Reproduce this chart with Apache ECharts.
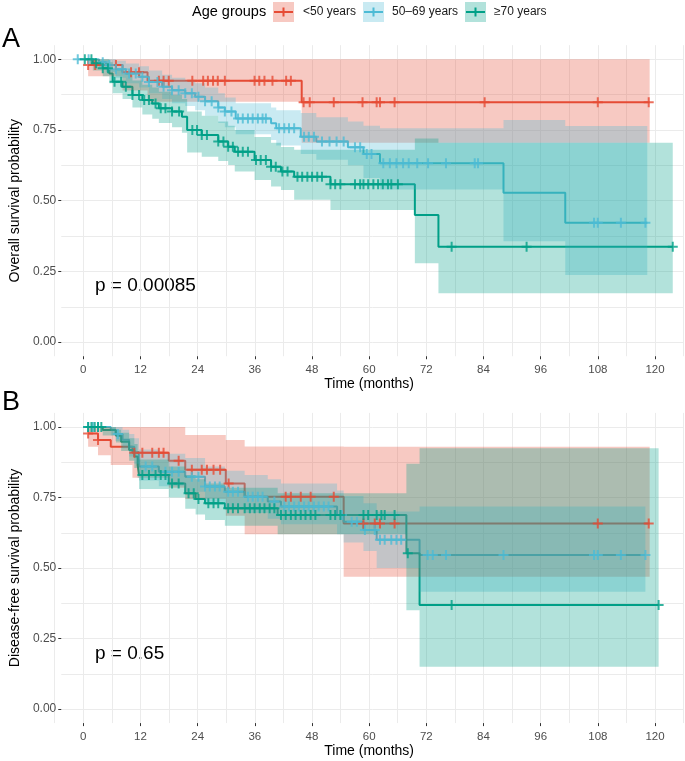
<!DOCTYPE html>
<html><head><meta charset="utf-8">
<script src="https://cdn.jsdelivr.net/npm/echarts@6/dist/echarts.min.js"></script>
<style>html,body{margin:0;padding:0;background:#fff}#c{width:685px;height:761px}</style>
</head><body><div id="c"></div>
<script>
// ---------- tick labels ----------
const xTicks = [0, 12, 24, 36, 48, 60, 72, 84, 96, 108, 120];
const yTicks = [0, 0.25, 0.5, 0.75, 1];
const groupNames = ['<50 years', '50\u201369 years', '\u226570 years'];

// ---------- Panel A: overall survival ----------
const osRedT  = [-0.3, 7.0, 12.3, 45.0, 118.8];
const osRedS  = [0.98, 0.954, 0.924, 0.848, 0.848];
const osRedLo = [0.94, 0.89, 0.85, 0.705, 0.705];
const osRedHi = [1, 1, 1, 1, 1];
const osRedC  = [-0.3, 1.2, 5.6, 8.8, 10.5, 14.7, 15.7, 16.8, 21.8, 24.1, 25.1, 26.2, 27.2, 28.7, 35.0, 36.0, 37.1, 38.8, 41.7, 42.7, 45.4, 46.7, 51.8, 57.9, 60.9, 61.6, 64.7, 83.8, 107.8, 118.6];

const osBlueT  = [-2.5, 2.0, 3.5, 5.6, 7.7, 10.5, 12.6, 15.4, 17.5, 20.3, 22.4, 24.5, 27.3, 28.7, 31.0, 38.5, 39.6, 44.8, 48.1, 54.8, 58.1, 61.6, 87.8, 100.9, 118.3];
const osBlueS  = [1.0, 0.99, 0.98, 0.965, 0.95, 0.938, 0.92, 0.903, 0.891, 0.88, 0.868, 0.852, 0.83, 0.815, 0.791, 0.774, 0.756, 0.726, 0.709, 0.689, 0.665, 0.632, 0.528, 0.422, 0.422];
const osBlueHi = [1.0, 1.0, 1.0, 0.995, 0.985, 0.975, 0.96, 0.945, 0.935, 0.925, 0.915, 0.9, 0.88, 0.865, 0.845, 0.83, 0.82, 0.81, 0.795, 0.78, 0.765, 0.756, 0.785, 0.764, 0.764];
const osBlueLo = [1.0, 0.97, 0.955, 0.935, 0.915, 0.9, 0.88, 0.86, 0.845, 0.835, 0.82, 0.8, 0.775, 0.76, 0.735, 0.715, 0.695, 0.665, 0.645, 0.625, 0.58, 0.54, 0.357, 0.237, 0.237];
const osBlueC  = [-2.5, -0.2, 2.8, 4.2, 5.6, 7.0, 8.4, 9.8, 11.2, 12.6, 14.4, 15.7, 17.5, 18.9, 20.3, 21.7, 23.1, 24.5, 25.9, 27.3, 28.7, 30.1, 31.5, 32.5, 33.6, 34.6, 35.7, 36.7, 37.4, 40.2, 41.3, 42.3, 43.4, 45.5, 46.5, 47.6, 49.3, 50.9, 52.4, 53.9, 56.3, 57.4, 58.8, 59.8, 62.3, 63.7, 65.1, 66.5, 67.7, 69.5, 71.8, 75.6, 81.7, 82.4, 107.0, 107.8, 112.7, 117.9];

const osGreenT  = [-1.0, 0.7, 2.8, 4.2, 4.9, 7.0, 9.1, 11.2, 13.3, 14.7, 17.5, 19.6, 20.7, 23.8, 27.3, 29.4, 30.8, 35.0, 38.5, 40.6, 43.4, 51.1, 69.0, 74.0, 123.7];
const osGreenS  = [1.0, 0.986, 0.968, 0.95, 0.921, 0.903, 0.874, 0.856, 0.844, 0.827, 0.815, 0.797, 0.75, 0.732, 0.709, 0.691, 0.673, 0.644, 0.62, 0.603, 0.585, 0.558, 0.449, 0.337, 0.337];
const osGreenHi = [1.0, 1.0, 1.0, 0.99, 0.965, 0.95, 0.925, 0.91, 0.9, 0.885, 0.875, 0.86, 0.815, 0.8, 0.78, 0.765, 0.75, 0.725, 0.705, 0.69, 0.68, 0.68, 0.72, 0.705, 0.705];
const osGreenLo = [1.0, 0.96, 0.94, 0.915, 0.88, 0.86, 0.83, 0.805, 0.79, 0.775, 0.76, 0.74, 0.67, 0.655, 0.64, 0.626, 0.603, 0.573, 0.55, 0.538, 0.503, 0.467, 0.279, 0.173, 0.173];
const osGreenC  = [-1.0, 0.4, 1.4, 2.8, 3.9, 5.3, 6.7, 7.7, 9.1, 10.5, 11.6, 12.6, 14.0, 15.1, 16.1, 17.5, 19.0, 21.8, 22.8, 23.8, 24.9, 27.3, 28.4, 29.4, 30.4, 31.5, 32.5, 33.6, 35.3, 36.3, 37.4, 38.5, 39.5, 40.9, 42.0, 44.1, 45.1, 46.2, 47.2, 48.3, 49.3, 51.1, 52.1, 53.2, 56.3, 57.4, 58.1, 59.1, 60.2, 61.2, 62.2, 63.3, 64.0, 65.4, 76.8, 92.7, 123.7];

// ---------- Panel B: disease-free survival ----------
const dfsRedT  = [-0.3, 1.8, 4.5, 9.1, 16.8, 20.3, 28.9, 32.9, 53.9, 118.8];
const dfsRedS  = [0.977, 0.954, 0.93, 0.909, 0.88, 0.848, 0.8, 0.753, 0.658, 0.658];
const dfsRedHi = [1, 1, 1, 1, 1, 0.972, 0.954, 0.931, 0.93, 0.93];
const dfsRedLo = [0.93, 0.9, 0.865, 0.82, 0.785, 0.745, 0.685, 0.62, 0.469, 0.469];
const dfsRedC  = [-0.3, 1.8, 9.5, 11.2, 13.3, 14.7, 15.7, 18.9, 21.7, 23.8, 24.9, 26.3, 27.7, 29.5, 41.6, 42.7, 44.8, 46.9, 51.8, 58.1, 60.5, 61.6, 64.7, 107.8, 118.6];

const dfsBlueT  = [-0.3, 4.5, 5.5, 7.0, 8.4, 9.5, 10.5, 14.7, 20.3, 24.5, 28.7, 32.9, 37.8, 40.6, 52.5, 53.9, 58.1, 60.9, 70.0, 117.9];
const dfsBlueS  = [1.0, 0.99, 0.975, 0.955, 0.93, 0.91, 0.86, 0.841, 0.824, 0.789, 0.77, 0.753, 0.736, 0.718, 0.688, 0.664, 0.635, 0.6, 0.546, 0.546];
const dfsBlueHi = [1.0, 1.0, 1.0, 0.99, 0.975, 0.96, 0.92, 0.905, 0.89, 0.86, 0.845, 0.83, 0.815, 0.8, 0.775, 0.755, 0.73, 0.7, 0.718, 0.718];
const dfsBlueLo = [1.0, 0.97, 0.95, 0.925, 0.895, 0.87, 0.81, 0.79, 0.77, 0.735, 0.715, 0.695, 0.675, 0.655, 0.62, 0.59, 0.56, 0.5, 0.416, 0.416];
const dfsBlueC  = [-0.3, 0.7, 1.8, 6.0, 11.9, 13.3, 16.1, 17.5, 18.9, 21.7, 23.1, 24.5, 25.5, 26.6, 27.6, 29.4, 30.4, 31.5, 33.6, 34.6, 35.7, 36.7, 39.2, 41.3, 42.3, 43.4, 44.4, 45.5, 46.5, 47.6, 48.6, 49.7, 50.7, 53.5, 55.6, 56.7, 58.4, 60.5, 61.6, 62.6, 64.0, 65.1, 66.1, 71.7, 72.8, 75.6, 87.8, 107.0, 107.8, 112.7, 117.9];

const dfsGreenT  = [-0.3, 2.8, 5.6, 6.7, 8.4, 9.5, 10.2, 10.5, 16.8, 20.3, 22.5, 24.5, 28.7, 39.9, 67.2, 70.0, 120.7];
const dfsGreenS  = [1.0, 0.989, 0.969, 0.948, 0.918, 0.895, 0.865, 0.83, 0.8, 0.765, 0.745, 0.73, 0.712, 0.688, 0.552, 0.369, 0.369];
const dfsGreenHi = [1.0, 1.0, 0.99, 0.98, 0.96, 0.94, 0.915, 0.885, 0.86, 0.83, 0.815, 0.8, 0.785, 0.765, 0.87, 0.925, 0.925];
const dfsGreenLo = [1.0, 0.97, 0.945, 0.915, 0.88, 0.855, 0.82, 0.78, 0.75, 0.71, 0.69, 0.67, 0.65, 0.62, 0.35, 0.15, 0.15];
const dfsGreenC  = [-0.3, 0.4, 1.1, 1.8, 2.5, 11.2, 12.6, 14.0, 15.1, 16.1, 17.5, 18.9, 21.0, 22.1, 23.1, 25.2, 26.3, 27.3, 29.4, 30.4, 31.5, 32.9, 34.0, 35.0, 36.1, 37.1, 38.2, 39.2, 40.6, 41.6, 42.7, 43.7, 44.8, 45.8, 46.9, 47.9, 51.1, 52.1, 53.2, 58.1, 59.1, 60.9, 61.9, 62.6, 64.7, 67.5, 76.8, 120.7];

const pTextA = 'p = 0.00085';
const pTextB = 'p = 0.65';

// ---------- styling ----------
const FONT = '"Liberation Sans", Arial, Helvetica, sans-serif';
const COL = ['#E64B35', '#4DBBD5', '#00A087'];
const BAND_ALPHA = 0.3;
function rgba(hex, a) {
  const n = parseInt(hex.slice(1), 16);
  return 'rgba(' + (n >> 16 & 255) + ',' + (n >> 8 & 255) + ',' + (n & 255) + ',' + a + ')';
}
const PLUS = 'path://M0,4H10V6H0Z M4,0H6V10H4Z';
const GRIDC = '#ebebeb';

function survAt(T, S, t) {
  let v = S[0];
  for (let i = 0; i < T.length; i++) { if (T[i] <= t + 1e-9) v = S[i]; }
  return v;
}

// layout
const PANEL_LEFT = 54.7, PANEL_W = 628.9;
const A_TOP = 59.3, A_H = 282.8;
const B_TOP = 427.0, B_H = 282.0;

function grids() {
  return [
    {left: PANEL_LEFT, width: PANEL_W, top: A_TOP - 0.05 * A_H, height: 1.1 * A_H},
    {left: PANEL_LEFT, width: PANEL_W, top: A_TOP, height: A_H},
    {left: PANEL_LEFT, width: PANEL_W, top: B_TOP - 0.05 * B_H, height: 1.1 * B_H},
    {left: PANEL_LEFT, width: PANEL_W, top: B_TOP, height: B_H}
  ];
}
const X_MIN = -6, X_MAX = 126;
function xAxes() {
  const out = [];
  [0, 2].forEach(function (g) {
    out.push({type: 'value', gridIndex: g, min: X_MIN, max: X_MAX, interval: 6, position: 'bottom',
      axisLine: {show: false}, axisTick: {show: false}, axisLabel: {show: false},
      splitLine: {show: true, lineStyle: {color: GRIDC, width: 1}}});
    out.push({type: 'value', gridIndex: g, min: X_MIN, max: X_MAX, position: 'bottom',
      name: 'Time (months)', nameLocation: 'middle', nameGap: 21,
      nameTextStyle: {fontFamily: FONT, fontSize: 14, color: '#000'},
      axisLine: {show: false},
      axisTick: {show: true, length: 3, customValues: xTicks, lineStyle: {color: '#333', width: 1}},
      axisLabel: {show: true, customValues: xTicks, margin: 8, fontFamily: FONT, fontSize: 11.5, color: '#4d4d4d'},
      splitLine: {show: false}});
    out.push({type: 'value', gridIndex: g + 1, min: X_MIN, max: X_MAX, show: false});
  });
  return out;
}
function yAxes() {
  const out = [];
  [['Overall survival probability', 0], ['Disease-free survival probability', 2]].forEach(function (p) {
    const g = p[1];
    out.push({type: 'value', gridIndex: g, min: -0.05, max: 1.05, show: false});
    out.push({type: 'value', gridIndex: g + 1, min: 0, max: 1, interval: 0.125, position: 'left',
      axisLine: {show: false}, axisTick: {show: false}, axisLabel: {show: false},
      splitLine: {show: true, lineStyle: {color: GRIDC, width: 1}}});
    out.push({type: 'value', gridIndex: g + 1, min: 0, max: 1, position: 'left',
      name: p[0], nameLocation: 'middle', nameGap: 33, nameRotate: 90,
      nameTextStyle: {fontFamily: FONT, fontSize: 14, color: '#000'},
      axisLine: {show: false},
      axisTick: {show: true, length: 3, customValues: yTicks, lineStyle: {color: '#333', width: 1}},
      axisLabel: {show: true, customValues: yTicks, margin: 5, fontFamily: FONT, fontSize: 12, color: '#4d4d4d',
        formatter: function (v) { return Number(v).toFixed(2); }},
      splitLine: {show: false}});
  });
  return out;
}

function group(T, S, Lo, Hi, C, color, xi, yi) {
  const line = {type: 'line', step: 'end', xAxisIndex: xi, yAxisIndex: yi, z: 2, silent: true,
    showSymbol: false, symbol: 'none', animation: false,
    lineStyle: {color: color, width: 2}, data: T.map(function (t, i) { return [t, S[i]]; })};
  const band = {type: 'custom', xAxisIndex: xi, yAxisIndex: yi, z: 3, silent: true, animation: false,
    data: [[T[0], S[0]]],
    renderItem: function (params, api) {
      const up = [], lo = [];
      for (let i = 0; i < T.length; i++) {
        const t1 = i + 1 < T.length ? T[i + 1] : T[i];
        up.push(api.coord([T[i], Hi[i]]), api.coord([t1, Hi[i]]));
        lo.push(api.coord([T[i], Lo[i]]), api.coord([t1, Lo[i]]));
      }
      return {type: 'polygon', shape: {points: up.concat(lo.reverse())},
        style: {fill: rgba(color, BAND_ALPHA), stroke: null}};
    }};
  const marks = {type: 'scatter', xAxisIndex: xi, yAxisIndex: yi, z: 4, silent: true, animation: false,
    symbol: PLUS, symbolSize: 10, itemStyle: {color: color},
    data: C.map(function (t) { return [t, survAt(T, S, t)]; })};
  return {line: line, band: band, marks: marks};
}

const A = [
  group(osRedT, osRedS, osRedLo, osRedHi, osRedC, COL[0], 2, 1),
  group(osBlueT, osBlueS, osBlueLo, osBlueHi, osBlueC, COL[1], 2, 1),
  group(osGreenT, osGreenS, osGreenLo, osGreenHi, osGreenC, COL[2], 2, 1)
];
const B = [
  group(dfsRedT, dfsRedS, dfsRedLo, dfsRedHi, dfsRedC, COL[0], 5, 4),
  group(dfsBlueT, dfsBlueS, dfsBlueLo, dfsBlueHi, dfsBlueC, COL[1], 5, 4),
  group(dfsGreenT, dfsGreenS, dfsGreenLo, dfsGreenHi, dfsGreenC, COL[2], 5, 4)
];
const series = [];
[A, B].forEach(function (P) {
  P.forEach(function (g) { series.push(g.line); });
  P.forEach(function (g) { series.push(g.band); });
  P.forEach(function (g) { series.push(g.marks); });
});

// legend drawn as graphic
const legendEls = [{type: 'text', left: 192, top: 4, style: {text: 'Age groups', font: '14.5px ' + FONT, fill: '#000'}}];
const keyX = [273, 363, 465], labX = [303, 392, 494];
for (let i = 0; i < 3; i++) {
  legendEls.push({type: 'rect', shape: {x: keyX[i], y: 2, width: 21, height: 20}, style: {fill: rgba(COL[i], BAND_ALPHA)}});
  legendEls.push({type: 'line', shape: {x1: keyX[i] + 1, y1: 12, x2: keyX[i] + 20, y2: 12}, style: {stroke: COL[i], lineWidth: 2}});
  legendEls.push({type: 'line', shape: {x1: keyX[i] + 10.5, y1: 7.5, x2: keyX[i] + 10.5, y2: 16.5}, style: {stroke: COL[i], lineWidth: 2}});
  legendEls.push({type: 'text', left: labX[i], top: 5.5, style: {text: groupNames[i], font: '12px ' + FONT, fill: '#1a1a1a'}});
}
const graphics = legendEls.concat([
  {type: 'text', left: 2, top: 26, style: {text: 'A', font: '27px ' + FONT, fill: '#000'}},
  {type: 'text', left: 2, top: 389, style: {text: 'B', font: '27px ' + FONT, fill: '#000'}},
  {type: 'text', left: 95, top: 276, style: {text: pTextA, font: '19px ' + FONT, fill: '#000'}},
  {type: 'text', left: 95, top: 644, style: {text: pTextB, font: '19px ' + FONT, fill: '#000'}}
]);

const chart = echarts.init(document.getElementById('c'), null, {renderer: 'canvas', width: 685, height: 761});
chart.setOption({
  backgroundColor: '#fff',
  animation: false,
  grid: grids(),
  xAxis: xAxes(),
  yAxis: yAxes(),
  series: series,
  graphic: graphics
});
</script></body></html>
